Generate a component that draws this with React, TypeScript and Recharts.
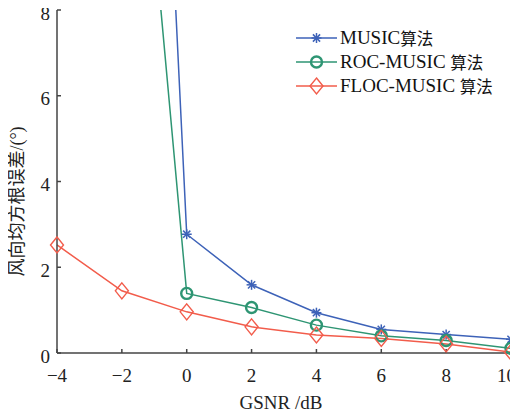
import React from 'react';
import { LineChart, Line, XAxis, YAxis, Legend } from 'recharts';

const gsnr = [-4, -2, 0, 2, 4, 6, 8, 10];
const music = [null, 33.8, 2.77, 1.59, 0.94, 0.55, 0.43, 0.32];
const rocMusic = [null, 18.0, 1.39, 1.06, 0.65, 0.4, 0.29, 0.11];
const flocMusic = [2.52, 1.45, 0.96, 0.61, 0.42, 0.34, 0.21, 0.02];
const xTicks = [-4, -2, 0, 2, 4, 6, 8, 10];
const yTicks = [0, 2, 4, 6, 8];

const Y_MAX = 8;
const inView = (v: number | null) => (v != null && v <= Y_MAX ? v : null);

const rows = gsnr.map((g, i) => ({
  gsnr: g,
  music: music[i],
  roc: rocMusic[i],
  floc: flocMusic[i],
  musicDot: inView(music[i]),
  rocDot: inView(rocMusic[i]),
  flocDot: inView(flocMusic[i]),
}));

const BLUE = '#3d62b8';
const GREEN = '#2e9573';
const RED = '#f25c4b';
const SERIF = '"Liberation Serif", "Times New Roman", "Noto Sans CJK SC", serif';
const AXIS = '#444';
const TEXT = '#222';

type Shape = 'star' | 'circle' | 'diamond';

const Marker = ({ shape, cx, cy, color }: { shape: Shape; cx: number; cy: number; color: string }) => {
  if (shape === 'star') {
    const r = 5;
    const d = r * 0.72;
    return (
      <g stroke={color} strokeWidth={1.5} fill="none">
        <line x1={cx - r} y1={cy} x2={cx + r} y2={cy} />
        <line x1={cx} y1={cy - r} x2={cx} y2={cy + r} />
        <line x1={cx - d} y1={cy - d} x2={cx + d} y2={cy + d} />
        <line x1={cx - d} y1={cy + d} x2={cx + d} y2={cy - d} />
      </g>
    );
  }
  if (shape === 'circle') {
    return <circle cx={cx} cy={cy} r={5.5} fill="none" stroke={color} strokeWidth={2.4} />;
  }
  return (
    <polygon
      points={`${cx},${cy - 8} ${cx + 6.5},${cy} ${cx},${cy + 8} ${cx - 6.5},${cy}`}
      fill="none"
      stroke={color}
      strokeWidth={1.4}
    />
  );
};

const dotRenderer = (shape: Shape, color: string) => (props: any) => {
  const { cx, cy, index, value } = props;
  if (value == null || cx == null || cy == null) return <g key={`d-${shape}-${index}`} />;
  return <Marker key={`d-${shape}-${index}`} shape={shape} cx={cx} cy={cy} color={color} />;
};

const legendItems: { latin: string; cjk: string; color: string; shape: Shape }[] = [
  { latin: 'MUSIC', cjk: '算法', color: BLUE, shape: 'star' },
  { latin: 'ROC-MUSIC ', cjk: '算法', color: GREEN, shape: 'circle' },
  { latin: 'FLOC-MUSIC ', cjk: '算法', color: RED, shape: 'diamond' },
];

const CustomLegend = () => (
  <div style={{ fontFamily: SERIF }}>
    {legendItems.map((item) => (
      <div key={item.latin} style={{ display: 'flex', alignItems: 'center', height: 24 }}>
        <svg width={44} height={20} style={{ flex: 'none' }}>
          <line x1={0} y1={10} x2={41} y2={10} stroke={item.color} strokeWidth={1.5} />
          <Marker shape={item.shape} cx={20.5} cy={10} color={item.color} />
        </svg>
        <span style={{ fontSize: 19, color: '#111', whiteSpace: 'pre' }}>{item.latin}</span>
        <span style={{ fontSize: 16.5, color: '#111' }}>{item.cjk}</span>
      </div>
    ))}
  </div>
);

const fmt = (v: number) => String(v).replace('-', '\u2212');

// last x label sits a bit left so it stays inside the frame
const XTick = ({ x, y, payload }: any) => (
  <text
    x={payload.value === 10 ? x - 3.5 : x}
    y={y}
    dy="0.71em"
    textAnchor="middle"
    fontSize={19}
    fontFamily={SERIF}
    fill={TEXT}
  >
    {fmt(payload.value)}
  </text>
);

const YTick = ({ x, y, payload }: any) => (
  <text x={x} y={y + 3} dy="0.355em" textAnchor="end" fontSize={19} fontFamily={SERIF} fill={TEXT}>
    {fmt(payload.value)}
  </text>
);

const App: React.FC = () => {
  return (
    <div style={{ width: 518, height: 415, position: 'relative', margin: '-8px 0 0 -8px' }}>
      <LineChart width={518} height={415} data={rows} margin={{ top: 10, right: 7, left: 17, bottom: 0 }}>
        <XAxis
          dataKey="gsnr"
          type="number"
          domain={[-4, 10]}
          ticks={xTicks}
          height={62}
          stroke={AXIS}
          strokeWidth={1.5}
          tickSize={-4}
          tickMargin={20}
          tick={<XTick />}
          label={{
            content: ({ viewBox }: any) => (
              <text
                x={viewBox.x + viewBox.width / 2 - 3}
                y={viewBox.y + 49}
                textAnchor="middle"
                dominantBaseline="central"
                fontSize={19}
                fontFamily={SERIF}
                fill={TEXT}
              >
                GSNR /dB
              </text>
            ),
          }}
        />
        <YAxis
          yAxisId="clip"
          type="number"
          domain={[0, Y_MAX]}
          allowDataOverflow
          ticks={yTicks}
          width={40}
          stroke={AXIS}
          strokeWidth={1.5}
          tickSize={-4}
          tickMargin={11}
          tick={<YTick />}
          label={{
            content: ({ viewBox }: any) => {
              const x = viewBox.x;
              const y = viewBox.y + viewBox.height / 2 + 20;
              return (
                <text
                  x={x}
                  y={y}
                  transform={`rotate(-90 ${x} ${y})`}
                  textAnchor="middle"
                  dominantBaseline="central"
                  fontSize={18}
                  fontFamily={SERIF}
                  fill={TEXT}
                >
                  风向均方根误差/(°)
                </text>
              );
            },
          }}
        />
        <YAxis yAxisId="m" type="number" domain={[0, Y_MAX]} hide />
        <Legend
          layout="vertical"
          align="center"
          verticalAlign="middle"
          content={<CustomLegend />}
          wrapperStyle={{ position: 'absolute', left: 296, top: 26, width: 220 }}
        />
        <Line yAxisId="clip" dataKey="music" stroke={BLUE} strokeWidth={1.5} dot={false} legendType="none" isAnimationActive={false} />
        <Line yAxisId="clip" dataKey="roc" stroke={GREEN} strokeWidth={1.5} dot={false} legendType="none" isAnimationActive={false} />
        <Line yAxisId="clip" dataKey="floc" stroke={RED} strokeWidth={1.5} dot={false} legendType="none" isAnimationActive={false} />
        <Line yAxisId="m" dataKey="musicDot" stroke="none" dot={dotRenderer('star', BLUE)} activeDot={false} legendType="none" isAnimationActive={false} />
        <Line yAxisId="m" dataKey="rocDot" stroke="none" dot={dotRenderer('circle', GREEN)} activeDot={false} legendType="none" isAnimationActive={false} />
        <Line yAxisId="m" dataKey="flocDot" stroke="none" dot={dotRenderer('diamond', RED)} activeDot={false} legendType="none" isAnimationActive={false} />
      </LineChart>
    </div>
  );
};

export default App;
